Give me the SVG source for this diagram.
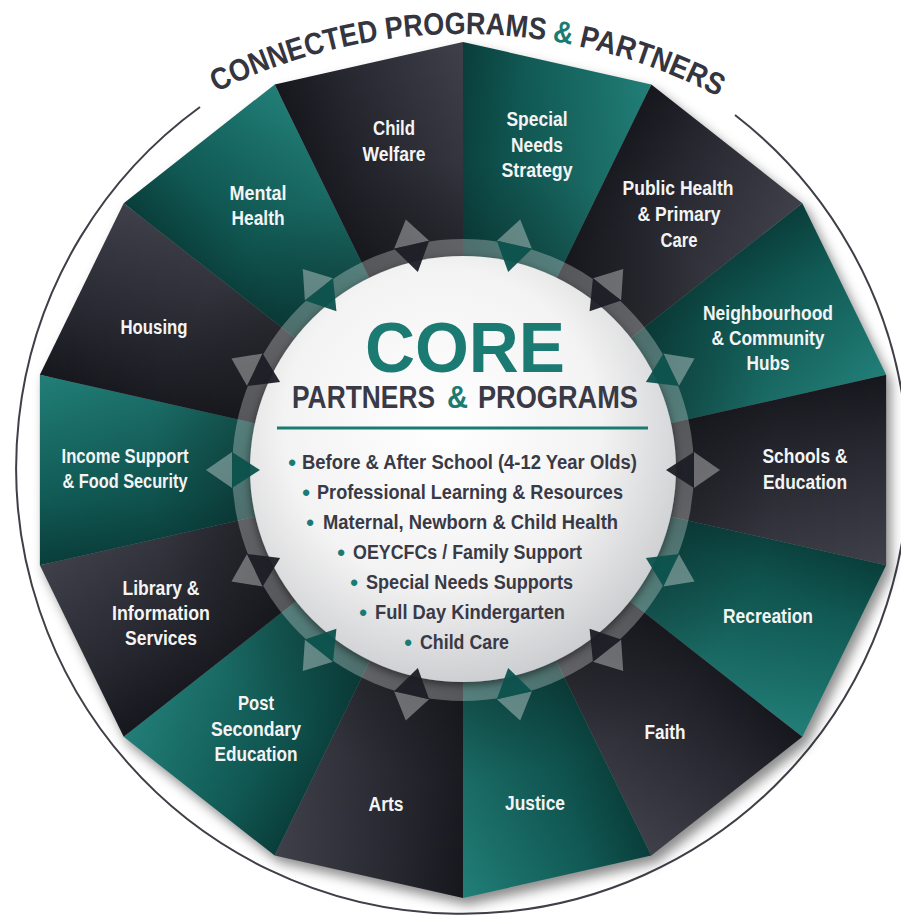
<svg xmlns="http://www.w3.org/2000/svg" xmlns:xlink="http://www.w3.org/1999/xlink" width="901" height="916" viewBox="0 0 901 916">
<style>
.teal{fill:url(#gTeal)}
.dark{fill:url(#gDark)}
.shade{fill:url(#gShade)}
.lbl{font-family:"Liberation Sans",Arial,sans-serif;font-weight:bold;font-size:20px;fill:#f4f4f4;text-anchor:middle}
.core{font-family:"Liberation Sans",Arial,sans-serif;font-weight:bold;fill:#393a45}
.bul{font-family:"Liberation Sans",Arial,sans-serif;font-weight:bold;font-size:22px;fill:#1b7b73;text-anchor:middle}
.ttl{font-family:"Liberation Sans",Arial,sans-serif;font-weight:bold;font-size:31px;fill:#34353f}
.tc{fill:#1b7b73}
.tdT{fill:#0c514c;fill-opacity:.95}
.tdD{fill:#1c1d25;fill-opacity:.95}
</style>
<defs>
<linearGradient id="gTeal" gradientUnits="userSpaceOnUse" x1="-96" y1="0" x2="96" y2="0">
<stop offset="0" stop-color="#093d3a"/>
<stop offset="0.35" stop-color="#115b56"/>
<stop offset="1" stop-color="#217f78"/>
</linearGradient>
<linearGradient id="gDark" gradientUnits="userSpaceOnUse" x1="-96" y1="0" x2="96" y2="0">
<stop offset="0" stop-color="#16171d"/>
<stop offset="0.35" stop-color="#26272f"/>
<stop offset="1" stop-color="#3f404a"/>
</linearGradient>
<radialGradient id="gShade" gradientUnits="userSpaceOnUse" cx="0" cy="0" r="431">
<stop offset="0.5" stop-color="#000" stop-opacity="0.35"/>
<stop offset="0.72" stop-color="#000" stop-opacity="0.1"/>
<stop offset="1" stop-color="#000" stop-opacity="0"/>
</radialGradient>
<radialGradient id="gDisc" cx="0.45" cy="0.4" r="0.62">
<stop offset="0" stop-color="#ffffff"/>
<stop offset="0.6" stop-color="#f3f3f3"/>
<stop offset="1" stop-color="#cbcccf"/>
</radialGradient>
<filter id="fBlur" x="-10%" y="-10%" width="120%" height="120%">
<feGaussianBlur stdDeviation="6"/>
</filter>
<filter id="fDisc" x="-10%" y="-10%" width="120%" height="125%">
<feDropShadow dx="0" dy="3" stdDeviation="4" flood-color="#000" flood-opacity="0.5"/>
</filter>
<path id="w" d="M0,0 L-95.9,-420.2 L95.9,-420.2 Z"/>
<polygon id="tl" points="-18,-231 18,-231 0,-257" fill="#ffffff" fill-opacity="0.35"/>
<polygon id="td" points="-18,-231 18,-231 0,-203"/>
<path id="titleArc" d="M108.8,162.9 A551,551 0 0,1 817.2,162.9" fill="none"/>
</defs>

<rect x="0" y="0" width="901" height="916" fill="#ffffff"/>

<path id="outer-line" d="M200,107 A446,446 0 1,0 735,115" fill="none" stroke="#3e3f47" stroke-width="2"/>

<polygon id="wheel-shadow" points="463,42 651.3,84.4 802.3,203.1 886.1,374.8 886.1,565.2 802.3,736.9 651.3,855.6 463,898 274.7,855.6 123.7,736.9 39.9,565.2 39.9,374.8 123.7,203.1 274.7,84.4" fill="#000" fill-opacity="0.45" filter="url(#fBlur)" transform="translate(5,7)"/>

<g id="nodes">
<g id="special-needs-strategy">
<use xlink:href="#w" class="teal" transform="translate(463 470) scale(1.007 0.993) rotate(12.857)"/>
<use xlink:href="#w" class="shade" transform="translate(463 470) scale(1.007 0.993) rotate(12.857)"/>
<text class="lbl" x="537" y="126" textLength="61" lengthAdjust="spacingAndGlyphs">Special</text>
<text class="lbl" x="537" y="152" textLength="52" lengthAdjust="spacingAndGlyphs">Needs</text>
<text class="lbl" x="537" y="177" textLength="71" lengthAdjust="spacingAndGlyphs">Strategy</text>
</g>
<g id="public-health">
<use xlink:href="#w" class="dark" transform="translate(463 470) scale(1.007 0.993) rotate(38.571)"/>
<use xlink:href="#w" class="shade" transform="translate(463 470) scale(1.007 0.993) rotate(38.571)"/>
<text class="lbl" x="678" y="195" textLength="111" lengthAdjust="spacingAndGlyphs">Public Health</text>
<text class="lbl" x="679" y="221" textLength="83" lengthAdjust="spacingAndGlyphs">&amp; Primary</text>
<text class="lbl" x="679" y="247" textLength="37" lengthAdjust="spacingAndGlyphs">Care</text>
</g>
<g id="neighbourhood-hubs">
<use xlink:href="#w" class="teal" transform="translate(463 470) scale(1.007 0.993) rotate(64.286)"/>
<use xlink:href="#w" class="shade" transform="translate(463 470) scale(1.007 0.993) rotate(64.286)"/>
<text class="lbl" x="768" y="320" textLength="130" lengthAdjust="spacingAndGlyphs">Neighbourhood</text>
<text class="lbl" x="768" y="345" textLength="113" lengthAdjust="spacingAndGlyphs">&amp; Community</text>
<text class="lbl" x="768" y="370" textLength="43" lengthAdjust="spacingAndGlyphs">Hubs</text>
</g>
<g id="schools-education">
<use xlink:href="#w" class="dark" transform="translate(463 470) scale(1.007 0.993) rotate(90)"/>
<use xlink:href="#w" class="shade" transform="translate(463 470) scale(1.007 0.993) rotate(90)"/>
<text class="lbl" x="805" y="463" textLength="85" lengthAdjust="spacingAndGlyphs">Schools &amp;</text>
<text class="lbl" x="805" y="489" textLength="84" lengthAdjust="spacingAndGlyphs">Education</text>
</g>
<g id="recreation">
<use xlink:href="#w" class="teal" transform="translate(463 470) scale(1.007 0.993) rotate(115.714)"/>
<use xlink:href="#w" class="shade" transform="translate(463 470) scale(1.007 0.993) rotate(115.714)"/>
<text class="lbl" x="768" y="623" textLength="90" lengthAdjust="spacingAndGlyphs">Recreation</text>
</g>
<g id="faith">
<use xlink:href="#w" class="dark" transform="translate(463 470) scale(1.007 0.993) rotate(141.429)"/>
<use xlink:href="#w" class="shade" transform="translate(463 470) scale(1.007 0.993) rotate(141.429)"/>
<text class="lbl" x="665" y="739" textLength="41" lengthAdjust="spacingAndGlyphs">Faith</text>
</g>
<g id="justice">
<use xlink:href="#w" class="teal" transform="translate(463 470) scale(1.007 0.993) rotate(167.143)"/>
<use xlink:href="#w" class="shade" transform="translate(463 470) scale(1.007 0.993) rotate(167.143)"/>
<text class="lbl" x="535" y="810" textLength="60" lengthAdjust="spacingAndGlyphs">Justice</text>
</g>
<g id="arts">
<use xlink:href="#w" class="dark" transform="translate(463 470) scale(1.007 0.993) rotate(192.857)"/>
<use xlink:href="#w" class="shade" transform="translate(463 470) scale(1.007 0.993) rotate(192.857)"/>
<text class="lbl" x="386" y="811" textLength="35" lengthAdjust="spacingAndGlyphs">Arts</text>
</g>
<g id="post-secondary-education">
<use xlink:href="#w" class="teal" transform="translate(463 470) scale(1.007 0.993) rotate(218.571)"/>
<use xlink:href="#w" class="shade" transform="translate(463 470) scale(1.007 0.993) rotate(218.571)"/>
<text class="lbl" x="256" y="710" textLength="36" lengthAdjust="spacingAndGlyphs">Post</text>
<text class="lbl" x="256" y="736" textLength="90" lengthAdjust="spacingAndGlyphs">Secondary</text>
<text class="lbl" x="256" y="761" textLength="83" lengthAdjust="spacingAndGlyphs">Education</text>
</g>
<g id="library-information">
<use xlink:href="#w" class="dark" transform="translate(463 470) scale(1.007 0.993) rotate(244.286)"/>
<use xlink:href="#w" class="shade" transform="translate(463 470) scale(1.007 0.993) rotate(244.286)"/>
<text class="lbl" x="161" y="595" textLength="77" lengthAdjust="spacingAndGlyphs">Library &amp;</text>
<text class="lbl" x="161" y="620" textLength="98" lengthAdjust="spacingAndGlyphs">Information</text>
<text class="lbl" x="161" y="645" textLength="72" lengthAdjust="spacingAndGlyphs">Services</text>
</g>
<g id="income-support">
<use xlink:href="#w" class="teal" transform="translate(463 470) scale(1.007 0.993) rotate(270)"/>
<use xlink:href="#w" class="shade" transform="translate(463 470) scale(1.007 0.993) rotate(270)"/>
<text class="lbl" x="125" y="463" textLength="127" lengthAdjust="spacingAndGlyphs">Income Support</text>
<text class="lbl" x="125" y="488" textLength="125" lengthAdjust="spacingAndGlyphs">&amp; Food Security</text>
</g>
<g id="housing">
<use xlink:href="#w" class="dark" transform="translate(463 470) scale(1.007 0.993) rotate(295.714)"/>
<use xlink:href="#w" class="shade" transform="translate(463 470) scale(1.007 0.993) rotate(295.714)"/>
<text class="lbl" x="154" y="334" textLength="67" lengthAdjust="spacingAndGlyphs">Housing</text>
</g>
<g id="mental-health">
<use xlink:href="#w" class="teal" transform="translate(463 470) scale(1.007 0.993) rotate(321.429)"/>
<use xlink:href="#w" class="shade" transform="translate(463 470) scale(1.007 0.993) rotate(321.429)"/>
<text class="lbl" x="258" y="200" textLength="57" lengthAdjust="spacingAndGlyphs">Mental</text>
<text class="lbl" x="258" y="225" textLength="53" lengthAdjust="spacingAndGlyphs">Health</text>
</g>
<g id="child-welfare">
<use xlink:href="#w" class="dark" transform="translate(463 470) scale(1.007 0.993) rotate(347.143)"/>
<use xlink:href="#w" class="shade" transform="translate(463 470) scale(1.007 0.993) rotate(347.143)"/>
<text class="lbl" x="394" y="135" textLength="42" lengthAdjust="spacingAndGlyphs">Child</text>
<text class="lbl" x="394" y="161" textLength="63" lengthAdjust="spacingAndGlyphs">Welfare</text>
</g>
</g>

<circle id="ring" cx="463" cy="470" r="231" fill="#ffffff" fill-opacity="0.28"/>

<g id="core">
<circle cx="463" cy="469" r="213" fill="url(#gDisc)" filter="url(#fDisc)"/>
<text class="core tc" x="465" y="372" font-size="70" text-anchor="middle" textLength="200" lengthAdjust="spacingAndGlyphs">CORE</text>
<text class="core" x="292" y="408" font-size="31" textLength="143" lengthAdjust="spacingAndGlyphs">PARTNERS</text>
<text class="core tc" x="447" y="408" font-size="31" textLength="21" lengthAdjust="spacingAndGlyphs">&amp;</text>
<text class="core" x="478" y="408" font-size="31" textLength="160" lengthAdjust="spacingAndGlyphs">PROGRAMS</text>
<line x1="277" y1="428" x2="648" y2="428" stroke="#1b7b73" stroke-width="3"/>
<text class="bul" x="292" y="470">•</text>
<text class="core" x="302" y="469" font-size="20" textLength="335" lengthAdjust="spacingAndGlyphs">Before &amp; After School (4-12 Year Olds)</text>
<text class="bul" x="306" y="500">•</text>
<text class="core" x="317" y="499" font-size="20" textLength="306" lengthAdjust="spacingAndGlyphs">Professional Learning &amp; Resources</text>
<text class="bul" x="310" y="530">•</text>
<text class="core" x="323" y="529" font-size="20" textLength="295" lengthAdjust="spacingAndGlyphs">Maternal, Newborn &amp; Child Health</text>
<text class="bul" x="341" y="560">•</text>
<text class="core" x="353" y="559" font-size="20" textLength="229" lengthAdjust="spacingAndGlyphs">OEYCFCs / Family Support</text>
<text class="bul" x="354" y="590">•</text>
<text class="core" x="366" y="589" font-size="20" textLength="207" lengthAdjust="spacingAndGlyphs">Special Needs Supports</text>
<text class="bul" x="363" y="620">•</text>
<text class="core" x="375" y="619" font-size="20" textLength="190" lengthAdjust="spacingAndGlyphs">Full Day Kindergarten</text>
<text class="bul" x="408" y="650">•</text>
<text class="core" x="420" y="649" font-size="20" textLength="89" lengthAdjust="spacingAndGlyphs">Child Care</text>
</g>

<g id="connectors">
<g transform="translate(463 470) rotate(12.857)"><use xlink:href="#tl"/><use xlink:href="#td" class="tdT"/></g>
<g transform="translate(463 470) rotate(38.571)"><use xlink:href="#tl"/><use xlink:href="#td" class="tdD"/></g>
<g transform="translate(463 470) rotate(64.286)"><use xlink:href="#tl"/><use xlink:href="#td" class="tdT"/></g>
<g transform="translate(463 470) rotate(90)"><use xlink:href="#tl"/><use xlink:href="#td" class="tdD"/></g>
<g transform="translate(463 470) rotate(115.714)"><use xlink:href="#tl"/><use xlink:href="#td" class="tdT"/></g>
<g transform="translate(463 470) rotate(141.429)"><use xlink:href="#tl"/><use xlink:href="#td" class="tdD"/></g>
<g transform="translate(463 470) rotate(167.143)"><use xlink:href="#tl"/><use xlink:href="#td" class="tdT"/></g>
<g transform="translate(463 470) rotate(192.857)"><use xlink:href="#tl"/><use xlink:href="#td" class="tdD"/></g>
<g transform="translate(463 470) rotate(218.571)"><use xlink:href="#tl"/><use xlink:href="#td" class="tdT"/></g>
<g transform="translate(463 470) rotate(244.286)"><use xlink:href="#tl"/><use xlink:href="#td" class="tdD"/></g>
<g transform="translate(463 470) rotate(270)"><use xlink:href="#tl"/><use xlink:href="#td" class="tdT"/></g>
<g transform="translate(463 470) rotate(295.714)"><use xlink:href="#tl"/><use xlink:href="#td" class="tdD"/></g>
<g transform="translate(463 470) rotate(321.429)"><use xlink:href="#tl"/><use xlink:href="#td" class="tdT"/></g>
<g transform="translate(463 470) rotate(347.143)"><use xlink:href="#tl"/><use xlink:href="#td" class="tdD"/></g>
</g>

<g id="title">
<text class="ttl"><textPath xlink:href="#titleArc" startOffset="129" textLength="338" lengthAdjust="spacingAndGlyphs">CONNECTED PROGRAMS</textPath></text>
<text class="ttl tc"><textPath xlink:href="#titleArc" startOffset="474" textLength="20" lengthAdjust="spacingAndGlyphs">&amp;</textPath></text>
<text class="ttl"><textPath xlink:href="#titleArc" startOffset="501" textLength="149" lengthAdjust="spacingAndGlyphs">PARTNERS</textPath></text>
</g>
</svg>
